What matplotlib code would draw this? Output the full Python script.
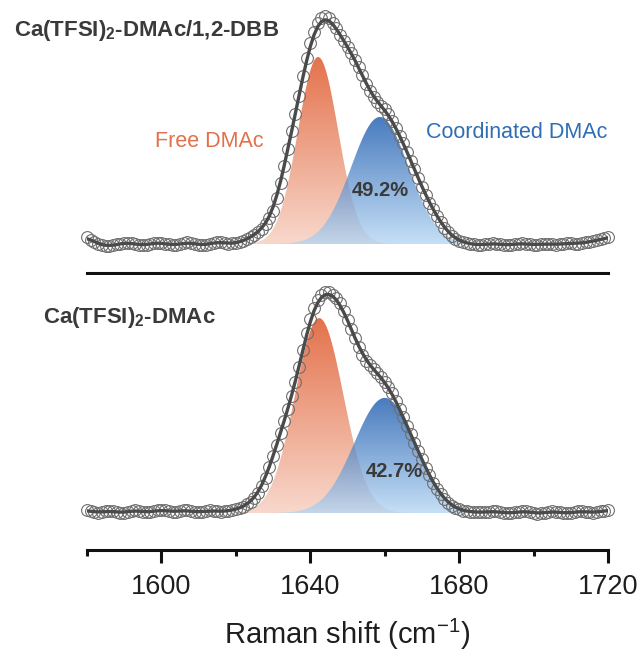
import numpy as np
import matplotlib
matplotlib.use("Agg")
import matplotlib.pyplot as plt
from matplotlib.colors import LinearSegmentedColormap
from matplotlib.patches import Polygon
from matplotlib.ticker import MultipleLocator

plt.rcParams["font.family"] = ["Liberation Sans", "DejaVu Sans"]
plt.rcParams["mathtext.fontset"] = "custom"
plt.rcParams["mathtext.rm"] = "Liberation Sans"
plt.rcParams["mathtext.bf"] = "Liberation Sans:bold"

# Raman spectra, 1 cm-1 steps, baseline-corrected intensity (a.u.)
wavenumber = np.arange(1580, 1721)

dbb_data = [
    0.030, 0.018, 0.008, 0.002, -0.004, -0.008, -0.010, -0.006, -0.002, 0.002,
    0.004, 0.006, 0.004, 0.000, -0.004, -0.006, -0.003, 0.001, 0.004, 0.006,
    0.005, 0.002, -0.002, -0.005, -0.004, 0.000, 0.004, 0.007, 0.006, 0.002,
    -0.003, -0.006, -0.004, 0.001, 0.006, 0.010, 0.008, 0.004, 0.002, 0.003,
    0.004, 0.008, 0.014, 0.022, 0.030, 0.040, 0.052, 0.068, 0.088, 0.113,
    0.145, 0.200, 0.268, 0.342, 0.418, 0.495, 0.572, 0.650, 0.735, 0.815,
    0.880, 0.930, 0.968, 0.990, 0.998, 0.990, 0.970, 0.945, 0.918, 0.890,
    0.865, 0.838, 0.808, 0.776, 0.740, 0.702, 0.670, 0.643, 0.622, 0.606,
    0.590, 0.570, 0.540, 0.508, 0.475, 0.442, 0.405, 0.366, 0.327, 0.288,
    0.250, 0.215, 0.182, 0.152, 0.122, 0.096, 0.072, 0.052, 0.036, 0.024,
    0.015, 0.009, 0.004, 0.001, -0.002, -0.003, -0.004, -0.002, 0.001, 0.003,
    0.002, -0.001, -0.004, -0.005, -0.003, 0.000, 0.002, 0.003, 0.001, -0.002,
    -0.004, -0.003, 0.000, 0.002, 0.001, -0.002, -0.003, -0.001, 0.002, 0.004,
    0.003, 0.001, 0.002, 0.005, 0.008, 0.010, 0.012, 0.016, 0.020, 0.026,
    0.030,
]

dmac_data = [
    0.012, 0.008, 0.004, 0.002, 0.004, 0.008, 0.010, 0.008, 0.004, 0.001,
    0.002, 0.006, 0.010, 0.012, 0.010, 0.006, 0.003, 0.004, 0.008, 0.012,
    0.014, 0.012, 0.008, 0.005, 0.006, 0.010, 0.013, 0.012, 0.008, 0.004,
    0.003, 0.006, 0.010, 0.012, 0.010, 0.007, 0.006, 0.008, 0.011, 0.013,
    0.016, 0.020, 0.028, 0.038, 0.050, 0.066, 0.088, 0.117, 0.155, 0.200,
    0.250, 0.300, 0.352, 0.405, 0.458, 0.512, 0.575, 0.640, 0.715, 0.790,
    0.850, 0.900, 0.935, 0.958, 0.968, 0.968, 0.958, 0.942, 0.920, 0.885,
    0.845, 0.806, 0.768, 0.730, 0.695, 0.668, 0.648, 0.630, 0.613, 0.595,
    0.575, 0.552, 0.525, 0.490, 0.457, 0.420, 0.382, 0.345, 0.308, 0.272,
    0.235, 0.198, 0.165, 0.134, 0.107, 0.083, 0.063, 0.046, 0.033, 0.023,
    0.016, 0.011, 0.008, 0.006, 0.005, 0.004, 0.003, 0.004, 0.006, 0.008,
    0.007, 0.004, 0.001, -0.001, 0.000, 0.003, 0.006, 0.008, 0.007, 0.004,
    0.001, -0.002, -0.001, 0.002, 0.005, 0.007, 0.006, 0.003, 0.000, -0.001,
    0.001, 0.004, 0.007, 0.008, 0.006, 0.003, 0.002, 0.004, 0.007, 0.010,
    0.012,
]

# free DMAc band: (centre, height, sigma); coordinated band: (centre, sigma)
dbb_free = (1642.1, 0.820, 5.4)
dbb_coord = (1658.7, 7.7)
dmac_free = (1642.4, 0.855, 6.5)
dmac_coord = (1660.0, 8.2)

# coordinated fraction of the C=O band area (%)
dbb_share = 49.2
dmac_share = 42.7

samples = [r"Ca(TFSI)$_{\mathbf{2}}$-DMAc/1,2-DBB", r"Ca(TFSI)$_{\mathbf{2}}$-DMAc"]

orange_top, orange_bottom = "#E4724C", "#F8D8CC"
blue_top, blue_bottom = "#0A4EA8", "#B2D5F3"
free_color = "#E0714C"
coord_color = "#2F6DB5"
text_dark = "#3a3a3a"

W, H = 644, 657
fig = plt.figure(figsize=(W / 100, H / 100), dpi=100)


def px(x, y):
    return x / W, 1 - y / H


def gauss(x, c, a, s):
    return a * np.exp(-0.5 * ((x - c) / s) ** 2)


def smooth(y, n=5):
    yp = np.pad(np.asarray(y), n // 2, mode="edge")
    return np.convolve(yp, np.ones(n) / n, mode="valid")


def gradient_fill(ax, x, y, top, bottom, alpha, z):
    verts = np.column_stack([np.r_[x[0], x, x[-1]], np.r_[0, y, 0]])
    patch = Polygon(verts, closed=True, facecolor="none", edgecolor="none")
    ax.add_patch(patch)
    cmap = LinearSegmentedColormap.from_list("g", [bottom, top])
    grad = np.linspace(0, 1, 256).reshape(-1, 1)
    im = ax.imshow(grad, cmap=cmap, aspect="auto", origin="lower",
                   extent=[x[0], x[-1], 0, y.max()], alpha=alpha,
                   zorder=z, interpolation="bilinear")
    im.set_clip_path(patch)


def draw_panel(ax, data, free, coord, share, ylim):
    xf = np.linspace(1580, 1720, 1401)
    c1, a1, s1 = free
    c2, s2 = coord
    # height of the coordinated band follows from its area share
    a2 = share / (100 - share) * a1 * s1 / s2
    gradient_fill(ax, xf, gauss(xf, c1, a1, s1), orange_top, orange_bottom, 1.0, 1)
    gradient_fill(ax, xf, gauss(xf, c2, a2, s2), blue_top, blue_bottom, 0.75, 2)
    ax.plot(wavenumber, data, "o", ms=8.5, mfc="none", mec="#6e6e6e", mew=0.8,
            zorder=3, clip_on=False)
    ax.plot(wavenumber, smooth(data), color="#4a4a4a", lw=2.4, zorder=4,
            solid_capstyle="round")
    ax.set_xlim(1580, 1720)
    ax.set_ylim(*ylim)
    for side in ("top", "left", "right"):
        ax.spines[side].set_visible(False)
    ax.spines["bottom"].set_linewidth(2.2)
    ax.spines["bottom"].set_color("#111111")
    ax.set_yticks([])


ax_top = fig.add_axes([87 / W, 1 - 273 / H, 521 / W, 268 / H])
ax_bot = fig.add_axes([87 / W, 1 - 550 / H, 521 / W, 275 / H])

draw_panel(ax_top, dbb_data, dbb_free, dbb_coord, dbb_share, (-0.127, 1.048))
draw_panel(ax_bot, dmac_data, dmac_free, dmac_coord, dmac_share, (-0.162, 1.044))

ax_top.set_xticks([])

ax_bot.xaxis.set_major_locator(MultipleLocator(40))
ax_bot.xaxis.set_minor_locator(MultipleLocator(20))
ax_bot.tick_params(axis="x", which="major", length=9.5, width=2.2, direction="out",
                   labelsize=19.5, pad=8, color="#111111", labelcolor="#1e1e1e")
ax_bot.tick_params(axis="x", which="minor", length=4.5, width=2.2, direction="out",
                   color="#111111")
ax_bot.set_xlabel(r"Raman shift (cm$^{-1}$)", fontsize=21, labelpad=12, color="#1e1e1e")

# sample names
fig.text(*px(14, 36), samples[0], fontsize=16, fontweight="bold", color=text_dark,
         va="baseline", ha="left")
fig.text(*px(43, 323), samples[1], fontsize=16, fontweight="bold", color=text_dark,
         va="baseline", ha="left")

# band labels
fig.text(*px(155, 147), "Free DMAc", fontsize=15.5, color=free_color, va="baseline")
fig.text(*px(426, 138), "Coordinated DMAc", fontsize=15.5, color=coord_color, va="baseline")

fig.text(*px(380, 196), f"{dbb_share:.1f}%", fontsize=14.5, fontweight="bold",
         color=text_dark, ha="center", va="baseline")
fig.text(*px(394, 477), f"{dmac_share:.1f}%", fontsize=14.5, fontweight="bold",
         color=text_dark, ha="center", va="baseline")

fig.savefig("out.png", dpi=100)
